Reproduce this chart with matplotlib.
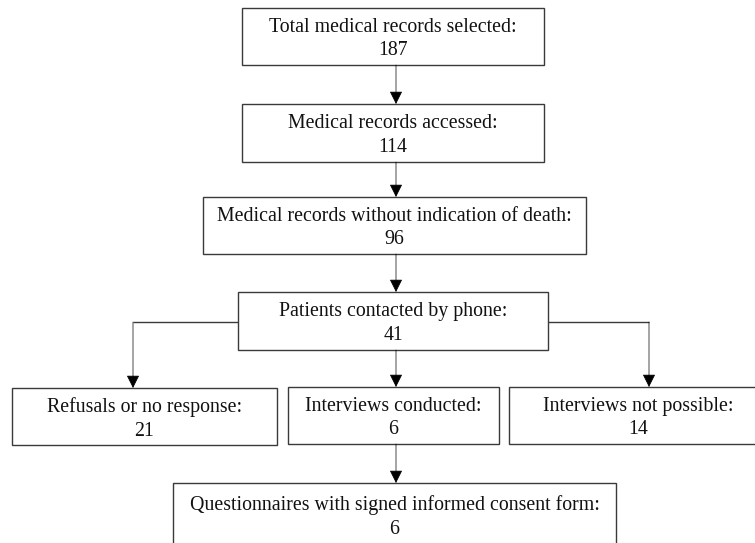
import matplotlib

matplotlib.use("Agg")
import matplotlib.pyplot as plt
from matplotlib.patches import Rectangle

# flowchart content
labels = [
    "Total medical records selected:",
    "Medical records accessed:",
    "Medical records without indication of death:",
    "Patients contacted by phone:",
    "Refusals or no response:",
    "Interviews conducted:",
    "Interviews not possible:",
    "Questionnaires with signed informed consent form:",
]
counts = [187, 114, 96, 41, 21, 6, 14, 6]

# box geometry in pixel units (x0, y0, x1, y1), y downward
BOXES = [
    (242, 8, 544, 65),
    (242, 104, 544, 162),
    (203, 197, 586, 254),
    (238, 292, 548, 350),
    (12, 388, 277, 445),
    (288, 387, 499, 444),
    (509, 387, 767, 444),
    (173, 483, 616, 546),
]
EDGE = "#3a3a3a"
W, H = 755, 543

plt.rcParams["font.family"] = ["Liberation Serif", "DejaVu Serif"]

fig = plt.figure(figsize=(W / 100, H / 100), dpi=100)
ax = fig.add_axes([0, 0, 1, 1])
ax.set_xlim(0, W)
ax.set_ylim(H, 0)
ax.axis("off")

for (x0, y0, x1, y1), lab, n in zip(BOXES, labels, counts):
    ax.add_patch(Rectangle((x0, y0), x1 - x0, y1 - y0, fill=False,
                           edgecolor=EDGE, lw=1.0))
    ax.text((x0 + x1) / 2, (y0 + y1) / 2 + 2.5, f"{lab}\n{n}",
            ha="center", va="center", fontsize=14.3, linespacing=1.3,
            color="#111111")


def arrow(pts):
    xs = [p[0] for p in pts]
    ys = [p[1] for p in pts]
    ax.plot(xs[:-1], ys[:-1], color=EDGE, lw=1.0, solid_capstyle="butt")
    ax.annotate("", xy=pts[-1], xytext=pts[-2],
                arrowprops=dict(arrowstyle="-|>,head_length=1.0,head_width=0.5",
                                color="black", lw=0.5, shrinkA=0, shrinkB=0,
                                mutation_scale=8))


CX = 396
arrow([(CX, 65), (CX, 104)])
arrow([(CX, 162), (CX, 197)])
arrow([(CX, 254), (CX, 292)])
arrow([(CX, 350), (CX, 387)])
arrow([(238, 322), (133, 322), (133, 388)])
arrow([(548, 322), (649, 322), (649, 387)])
arrow([(CX, 444), (CX, 483)])

fig.savefig("out.png", dpi=100, facecolor="white")
